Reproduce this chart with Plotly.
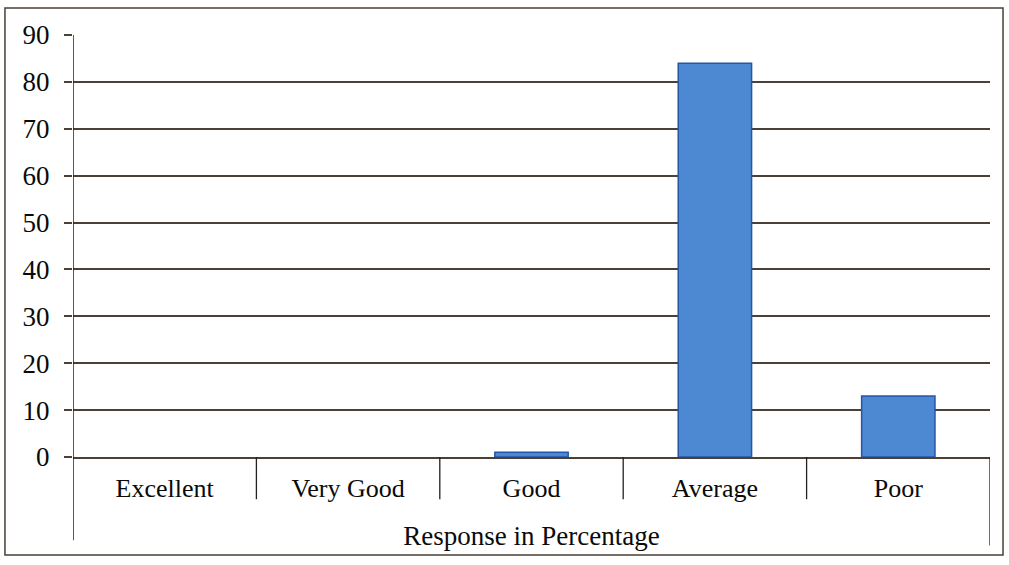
import plotly.graph_objects as go

categories = ["Excellent", "Very Good", "Good", "Average", "Poor"]
values = [0, 0, 1, 84, 13]
y_ticks = [0, 10, 20, 30, 40, 50, 60, 70, 80, 90]

font_family = "Liberation Serif, Times New Roman, serif"
line_col = "#4a4036"
txt = "#0a0a0a"

fig = go.Figure()
fig.add_trace(go.Bar(
    x=categories, y=values,
    marker=dict(color="#4d88d2",
                line=dict(color="#2856a6", width=[0 if v == 0 else 1.5 for v in values])),
    width=0.4,
))

shapes = []
# outer frame
shapes.append(dict(type="rect", xref="paper", yref="paper",
                   x0=-0.0742, x1=1.0142, y0=-0.232, y1=1.064,
                   line=dict(color=line_col, width=1.5)))
# left axis extension down through the table
shapes.append(dict(type="line", xref="x", yref="paper", x0=-0.5, x1=-0.5,
                   y0=-0.197, y1=1.0, line=dict(color="#222", width=1.5)))
# category dividers
for i in range(len(categories) - 1):
    shapes.append(dict(type="line", xref="x", yref="paper", x0=i + 0.5, x1=i + 0.5,
                       y0=-0.1, y1=0, line=dict(color="#222", width=1.3)))
# right edge of table
shapes.append(dict(type="line", xref="x", yref="paper", x0=4.5, x1=4.5,
                   y0=-0.21, y1=0, line=dict(color="#222", width=1.3)))

fig.update_layout(
    width=1009, height=565,
    margin=dict(l=73, r=19, t=35, b=108),
    paper_bgcolor="white", plot_bgcolor="white",
    showlegend=False,
    bargap=0.6,
    font=dict(family=font_family, size=27, color=txt),
    shapes=shapes,
    xaxis=dict(
        range=[-0.5, 4.5], automargin=False,
        showgrid=False, showline=True, linecolor=line_col, linewidth=1.5,
        ticks="outside", ticklen=7, tickcolor="rgba(0,0,0,0)",
        tickfont=dict(family=font_family, size=26, color=txt),
        title=dict(text="Response in Percentage", standoff=24,
                   font=dict(family=font_family, size=27, color=txt)),
    ),
    yaxis=dict(
        range=[0, 90], tickvals=y_ticks, automargin=False,
        showgrid=True, gridcolor=line_col, gridwidth=1.5,
        showline=False, zeroline=False,
        ticks="outside", ticklen=8, tickcolor=line_col, tickwidth=1.5,
        ticklabelstandoff=9,
        tickfont=dict(family=font_family, size=27, color=txt),
    ),
)

fig.write_html("out.html", config={"displayModeBar": False},
               post_script="document.body.style.margin='0';")
